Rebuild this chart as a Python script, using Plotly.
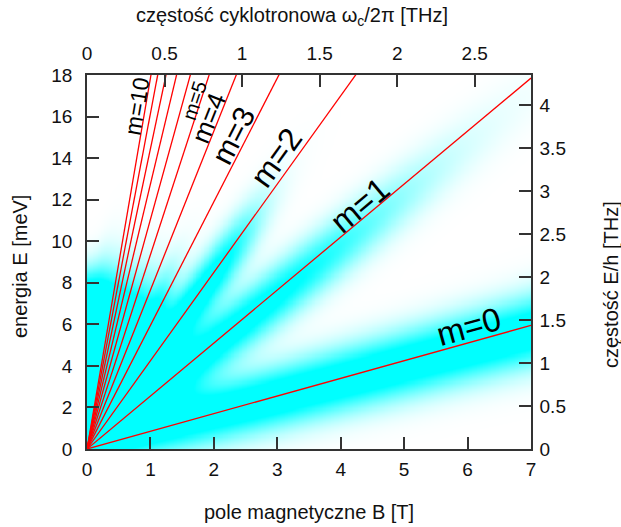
import numpy as np
import plotly.graph_objects as go

# Landau levels: index m and energy slope E/B in meV/T
levels = [0, 1, 2, 3, 4, 5, 6, 7, 8, 9, 10]
slopes = [0.85, 2.55, 4.25, 5.95, 7.65, 9.35, 11.05, 12.75, 14.45, 16.15, 17.85]

# absorption bands: onset energy at B=0, fade-out energy and fade width (meV)
band_onset = [0.72, 1.44, 2.16, 2.88, 3.6, 4.32, 5.04, 5.76, 6.48, 7.2, 7.92]
band_fade = [99.0, 10.6, 10.4, 7.5, 7.2, 7.2, 7.2, 7.2, 7.2, 7.2, 7.2]
band_fade_width = [1.0, 2.0, 0.9, 0.7, 0.7, 0.7, 0.7, 0.7, 0.7, 0.7, 0.7]
band_shift = 0.95          # band centre slope relative to the level line
band_sigma0 = 0.95
band_sigma_slope = 0.03

B_MAX = 7.0
E_MAX = 18.0
THZ_PER_T = 0.409      # cyclotron frequency per tesla
THZ_PER_MEV = 0.2418   # E/h conversion

bottom_ticks = [0, 1, 2, 3, 4, 5, 6, 7]
left_ticks = [0, 2, 4, 6, 8, 10, 12, 14, 16, 18]
top_ticks = [0, 0.5, 1, 1.5, 2, 2.5]
right_ticks = [0, 0.5, 1, 1.5, 2, 2.5, 3, 3.5, 4]

# intensity map
Bg = np.linspace(0, B_MAX, 281)
Eg = np.linspace(0, E_MAX, 361)
BB, EE = np.meshgrid(Bg, Eg)
sigma = band_sigma0 + band_sigma_slope * BB
Z = np.zeros_like(BB)
for s, c0, ef, fw in zip(slopes, band_onset, band_fade, band_fade_width):
    centre = np.sqrt(c0 ** 2 + (band_shift * s * BB) ** 2)
    amp = 1.0 / (1.0 + np.exp((centre - ef) / fw))
    Z += amp * np.exp(-0.5 * ((EE - centre) / sigma) ** 2)

FONT = "Liberation Sans, Arial, sans-serif"

fig = go.Figure()
fig.add_trace(go.Heatmap(
    x=Bg, y=Eg, z=Z, zmin=0, zmax=0.75, zsmooth="best",
    colorscale=[[0, "#ffffff"], [1, "#00ffff"]], showscale=False,
    hoverinfo="skip"))

for m, s in zip(levels, slopes):
    fig.add_trace(go.Scatter(
        x=[0, B_MAX], y=[0, s * B_MAX], mode="lines",
        line=dict(color="#ff0000", width=1.3), showlegend=False,
        hoverinfo="skip"))

# carrier trace for the frequency axes
fig.add_trace(go.Scatter(
    x=[0, B_MAX * THZ_PER_T], y=[0, E_MAX * THZ_PER_MEV],
    xaxis="x2", yaxis="y2", mode="markers",
    marker=dict(opacity=0), showlegend=False, hoverinfo="skip"))

axis_common = dict(
    ticks="inside", ticklen=12, tickwidth=1.5, tickcolor="#333333",
    showline=True, linecolor="#333333", linewidth=1.5,
    showgrid=False, zeroline=False,
    tickfont=dict(family=FONT, size=19, color="#111111"),
)

fig.update_layout(
    width=621, height=527,
    margin=dict(l=87, r=90, t=75, b=78),
    plot_bgcolor="white", paper_bgcolor="white",
    showlegend=False,
    xaxis=dict(range=[0, B_MAX], tickvals=bottom_ticks,
               ticklabelstandoff=2, **axis_common),
    yaxis=dict(range=[0, E_MAX], tickvals=left_ticks,
               ticklabelstandoff=9, **axis_common),
    xaxis2=dict(range=[0, B_MAX * THZ_PER_T], tickvals=top_ticks,
                overlaying="x", side="top", anchor="y2",
                ticklabelstandoff=6, **axis_common),
    yaxis2=dict(range=[0, E_MAX * THZ_PER_MEV], tickvals=right_ticks,
                tickformat="~g", overlaying="y", side="right", anchor="x2",
                ticklabelstandoff=3, **axis_common),
)

# axis titles, placed in pixels of the 621x527 page
title_font = dict(family=FONT, size=20, color="#111111")
titles = [
    ("pole magnetyczne B [T]", 309, 512, 0),
    ("częstość cyklotronowa ω<sub>c</sub>/2π [THz]", 292, 16, 0),
    ("energia E [meV]", 20, 267, -90),
    ("częstość E/h [THz]", 611, 285, -90),
]
for txt, px, py, ang in titles:
    fig.add_annotation(
        text=txt, showarrow=False, textangle=ang, font=title_font,
        xref="paper", yref="paper", xanchor="center", yanchor="middle",
        x=(px - 87) / (621 - 87 - 90), y=(527 - py - 78) / (527 - 75 - 78))

# level labels along the lines
level_labels = [
    ("m=0", 6.01, 5.92, 33, -15.6),
    ("m=1", 4.29, 11.74, 33, -39.9),
    ("m=2", 2.98, 14.0, 32, -54.3),
    ("m=3", 2.30, 15.11, 30, -62.8),
    ("m=4", 1.92, 15.93, 26, -68.2),
    ("m=5", 1.69, 16.75, 20, -71.9),
    ("m=10", 0.79, 16.5, 23, -80.3),
]
for txt, bx, ey, fs, ang in level_labels:
    fig.add_annotation(text=txt, x=bx, y=ey, xref="x", yref="y",
                       showarrow=False, textangle=ang,
                       font=dict(family=FONT, size=fs, color="#000000"))

fig.write_html("out.html")
